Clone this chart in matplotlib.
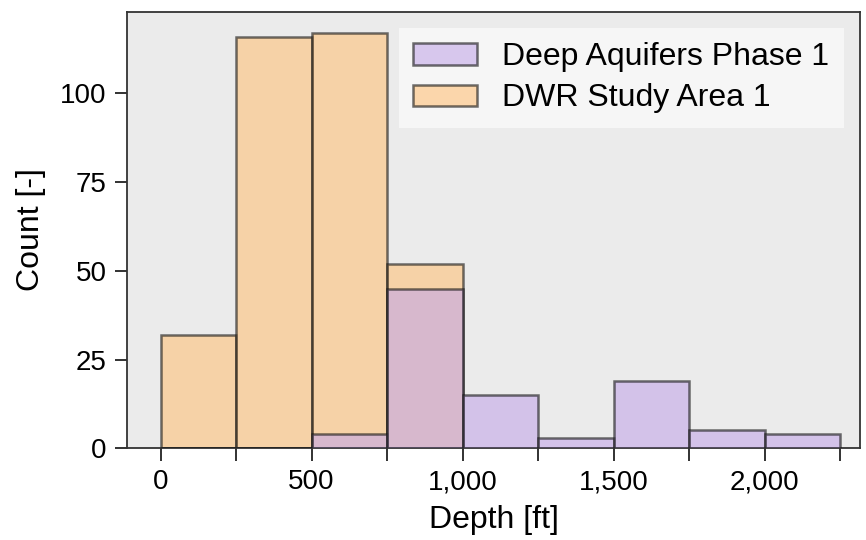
import numpy as np
import matplotlib
matplotlib.use("Agg")
import matplotlib.pyplot as plt
from matplotlib.ticker import FuncFormatter, MultipleLocator

# Bin edges (ft) and counts
bin_edges = [0, 250, 500, 750, 1000, 1250, 1500, 1750, 2000, 2250]
deep_aquifers = [0, 0, 4, 45, 15, 3, 19, 5, 4]
dwr_study = [32, 116, 117, 52, 0, 0, 0, 0, 0]

plt.rcParams['font.family'] = ['Liberation Sans', 'DejaVu Sans']
plt.rcParams['font.size'] = 20

fig, ax = plt.subplots(figsize=(8.66, 5.4), dpi=100)
fig.subplots_adjust(left=0.147, right=0.993, top=0.978, bottom=0.17)
ax.set_facecolor('#ebebeb')

lefts = np.array(bin_edges[:-1])
widths = np.diff(bin_edges)

ax.bar(lefts, dwr_study, width=widths, align='edge', color='#ffc27a',
       alpha=0.6, edgecolor='#111111', linewidth=1.8, label='DWR Study Area 1',
       zorder=2)
ax.bar(lefts, deep_aquifers, width=widths, align='edge', color='#c3a8e8',
       alpha=0.6, edgecolor='#111111', linewidth=1.8, label='Deep Aquifers Phase 1',
       zorder=3)

ax.set_xlim(-110, 2315)
ax.set_ylim(0, 123)
ax.xaxis.set_major_locator(MultipleLocator(500))
ax.xaxis.set_minor_locator(MultipleLocator(250))
ax.xaxis.set_major_formatter(FuncFormatter(lambda v, p: f"{int(v):,}"))
ax.yaxis.set_major_locator(MultipleLocator(25))
ax.tick_params(axis='both', which='both', direction='out', length=9, width=1.3,
               color='#222222', pad=6, labelsize=20)
for s in ax.spines.values():
    s.set_color('#333333')
    s.set_linewidth(1.3)

ax.set_xlabel('Depth [ft]', fontsize=23, labelpad=7)
ax.set_ylabel('Count [-]', fontsize=23, labelpad=10)

handles, labels = ax.get_legend_handles_labels()
leg = ax.legend(handles[::-1], labels[::-1], loc='upper right', frameon=True,
                fancybox=False, framealpha=0.6, edgecolor='none', fontsize=23,
                handlelength=2.0, handleheight=0.65, handletextpad=0.8,
                borderpad=0.45, labelspacing=0.35, borderaxespad=0.5)

fig.savefig('out.png', dpi=100)
